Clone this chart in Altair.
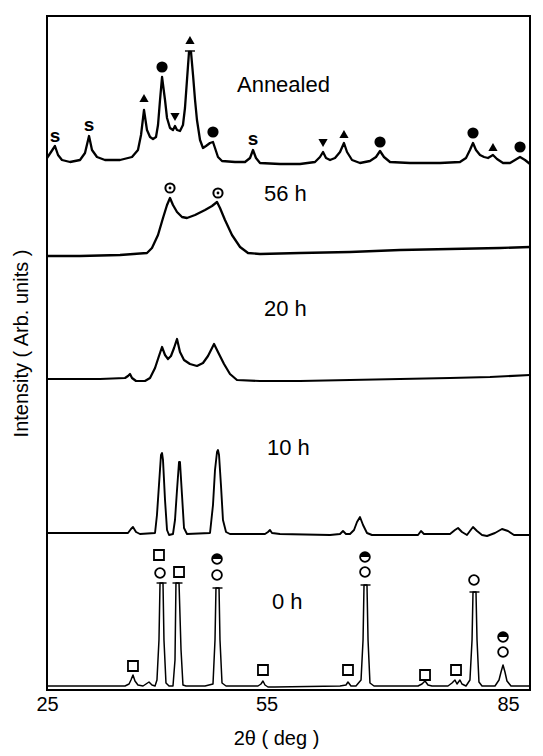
import altair as alt
import pandas as pd

# ---------------- diffraction patterns (2θ in deg, intensity in arb. units, offset) -------------
ann_x = [25.0, 25.50, 25.99, 26.37, 26.86, 27.86, 29.10, 29.72, 30.22, 30.59, 31.21, 32.20, 34.07,
         35.56, 36.30, 36.68, 37.05, 37.42, 37.80, 38.17, 38.54, 38.79, 39.04, 39.29, 39.66, 39.91,
         40.28, 40.65, 40.90, 41.15, 41.52, 41.89, 42.14, 42.39, 42.64, 42.89, 43.14, 43.39, 43.63,
         44.01, 44.38, 44.75, 45.25, 45.62, 45.87, 46.24, 46.74, 48.35, 49.60, 50.22, 50.59, 50.96,
         51.46, 53.94, 56.43, 58.29, 58.91, 59.29, 59.66, 60.16, 60.78, 61.40, 61.89, 62.27, 62.89,
         63.88, 65.12, 65.87, 66.37, 66.86, 67.61, 70.09, 73.82, 76.30, 77.05, 77.54, 77.92, 78.29,
         78.79, 79.29, 79.78, 80.40, 80.90, 81.65, 82.52, 83.14, 83.76, 84.38, 85.0]
ann_y = [532, 538, 544, 535, 530, 528, 530, 537, 554, 540, 533, 530, 530,
         533, 540, 555, 580, 560, 553, 551, 553, 565, 590, 613, 590, 572,
         562, 560, 564, 560, 559, 565, 582, 610, 638, 638, 615, 590, 570,
         550, 542, 544, 547, 548, 542, 533, 529, 528, 528, 532, 540, 532,
         527, 526, 526, 528, 533, 538, 532, 530, 532, 538, 547, 538, 530,
         527, 529, 533, 539, 533, 528, 527, 527, 528, 532, 540, 547, 540,
         535, 533, 532, 535, 531, 527, 527, 530, 533, 530, 526]

h56_x = [25.0, 29.10, 34.07, 37.42, 38.04, 38.79, 39.41, 39.91, 40.28, 40.65, 41.15, 41.77, 42.39,
         43.39, 44.63, 45.50, 46.12, 46.49, 47.11, 47.98, 48.98, 49.97, 51.46, 56.43, 62.64, 68.85,
         75.06, 81.27, 85.0]
h56_y = [434, 434, 435, 437, 442, 455, 472, 485, 492, 485, 478, 473, 472,
         475, 480, 484, 488, 482, 470, 455, 443, 437, 436, 437, 438, 440,
         441, 442, 443]

h20_x = [25.0, 31.58, 34.69, 35.06, 35.31, 35.56, 36.06, 37.17, 37.80, 38.42, 38.91, 39.29, 39.66,
         40.03, 40.40, 40.78, 41.15, 41.52, 42.02, 42.76, 43.63, 44.38, 45.00, 45.75, 46.24, 46.99,
         47.73, 48.60, 51.46, 56.43, 62.64, 68.85, 75.06, 80.03, 85.0]
h20_y = [311, 311, 312, 314, 316, 312, 309, 309, 312, 322, 334, 343, 335,
         331, 334, 342, 351, 338, 330, 326, 324, 327, 334, 346, 338, 326,
         316, 310, 309, 309, 310, 311, 312, 313, 315]

h10_x = [25.0, 31.58, 35.06, 35.43, 35.68, 36.06, 36.55, 38.42, 38.66, 38.91, 39.16, 39.29, 39.41,
         39.66, 39.91, 40.16, 40.65, 40.90, 41.15, 41.40, 41.52, 41.77, 42.02, 42.39, 45.25, 45.62,
         45.87, 46.12, 46.24, 46.37, 46.61, 46.86, 47.24, 47.73, 52.08, 52.45, 52.70, 52.95, 53.94,
         60.16, 61.40, 61.77, 62.14, 62.64, 63.14, 63.51, 63.88, 64.26, 64.75, 65.37, 71.09, 71.46,
         71.83, 75.06, 75.68, 76.06, 76.55, 77.17, 77.54, 77.92, 78.42, 79.04, 79.66, 80.65, 81.52,
         82.27, 83.01, 85.0]
h10_y = [157, 157, 157, 161, 163, 158, 156, 157, 175, 205, 235, 237, 230,
         190, 160, 155, 156, 170, 200, 228, 228, 195, 162, 156, 157, 185,
         220, 238, 240, 235, 205, 170, 158, 156, 156, 158, 160, 157, 156,
         155, 156, 159, 156, 156, 160, 168, 173, 165, 157, 155, 155, 159,
         156, 156, 160, 162, 158, 155, 159, 163, 159, 155, 154, 157, 161,
         159, 155, 155]

h0_x = [25.0, 34.69, 35.19, 35.43, 35.68, 35.93, 36.30, 36.93, 37.30, 37.67, 38.04, 38.42, 38.66,
        38.91, 39.04, 39.41, 39.53, 39.78, 40.16, 40.65, 40.90, 41.02, 41.40, 41.65, 41.89, 42.27,
        44.63, 45.62, 45.87, 45.99, 46.37, 46.49, 46.74, 47.24, 51.21, 51.58, 51.83, 52.08, 52.45,
        53.32, 61.40, 62.14, 62.39, 62.76, 63.38, 64.01, 64.26, 64.38, 64.75, 64.88, 65.12, 65.62,
        71.09, 71.58, 71.96, 72.33, 72.83, 74.81, 75.31, 75.68, 75.93, 76.30, 76.55, 77.05, 77.54,
        77.80, 77.92, 78.29, 78.42, 78.66, 79.04, 80.65, 81.15, 81.40, 81.65, 81.89, 82.14, 82.64,
        85.0]
h0_y = [4, 4, 6, 10, 15, 9, 5, 4, 6, 8, 5, 4, 10,
        50, 107, 107, 50, 7, 4, 4, 30, 107, 107, 40, 5, 4,
        4, 6, 50, 102, 102, 50, 7, 4, 4, 6, 9, 5, 3,
        3, 4, 5, 8, 4, 4, 10, 50, 105, 105, 50, 7, 4,
        4, 6, 9, 5, 4, 4, 7, 10, 6, 10, 6, 4, 10,
        50, 98, 98, 50, 8, 4, 4, 10, 18, 25, 18, 9, 4,
        4]

# truncation caps on clipped peaks
cap_x = [42.76, 39.23, 41.21, 46.18, 64.57, 78.10]
cap_y = [639, 107, 107, 102, 105, 98]

# ---------------- phase markers --------------------------------------------------------------
s_x, s_y = [25.99, 30.22, 50.59], [554, 565, 551]
tri_up_x, tri_up_y = [37.05, 42.76, 61.89, 80.40], [592, 650, 556, 543]
tri_dn_x, tri_dn_y = [40.90, 59.29], [573, 547]
dot_x, dot_y = [39.29, 45.62, 66.37, 77.92, 83.76], [623, 558, 548, 557, 543]
ring_x, ring_y = [40.28, 46.24], [502, 497]
sq_x, sq_y = [38.91, 41.40, 35.68, 51.83, 62.39, 71.96, 75.81], [135, 118, 24, 20, 20, 15, 20]
oc_x, oc_y = [39.04, 46.12, 64.50, 78.04, 81.65], [117, 115, 118, 110, 38]
half_x, half_y = [46.12, 64.50, 81.65], [131, 133, 53]

lab_text = ["Annealed", "56 h", "20 h", "10 h", "0 h"]
lab_x = [48.60, 51.96, 51.96, 52.33, 52.95]
lab_y = [605, 496, 381, 242, 88]

FONT = "Liberation Sans"
X = alt.X("x:Q", scale=alt.Scale(domain=[25, 85], nice=False, zero=False),
          axis=alt.Axis(values=[25, 55, 85], title="2θ ( deg )", grid=False, ticks=False,
                        domain=False, labelFlush=False, labelPadding=4,
                        labelOffset={"condition": {"test": "datum.value == 25", "value": 0}, "value": -22},
                        labelFontSize=20, labelFont=FONT, labelColor="black",
                        titleFont=FONT, titleFontSize=20, titleFontWeight="normal",
                        titleColor="black", titleX=229, titleY=48, titleBaseline="middle"))
Y = alt.Y("y:Q", scale=alt.Scale(domain=[0, 674], nice=False, zero=False),
          axis=alt.Axis(title="Intensity ( Arb. units )", labels=False, ticks=False, grid=False,
                        domain=False, titleFont=FONT, titleFontSize=20, titleFontWeight="normal",
                        titleColor="black", titleX=-26, titleY=327, titleAngle=270,
                        titleBaseline="middle", titleAlign="center"))
Xn = alt.X("x:Q")
Yn = alt.Y("y:Q")


def df(xs, ys):
    return pd.DataFrame({"x": xs, "y": ys})


layers = []
series = [(ann_x, ann_y, 2.3), (h56_x, h56_y, 2.3), (h20_x, h20_y, 2.2),
          (h10_x, h10_y, 1.9), (h0_x, h0_y, 1.5)]
for i, (xs, ys, sw) in enumerate(series):
    enc = dict(x=X, y=Y) if i == 0 else dict(x=Xn, y=Yn)
    layers.append(alt.Chart(df(xs, ys)).mark_line(color="black", strokeWidth=sw,
                                                  strokeJoin="round").encode(**enc))

layers.append(alt.Chart(df(cap_x, cap_y)).mark_tick(orient="horizontal", size=10, thickness=2,
                                                    color="black").encode(x=Xn, y=Yn))
layers.append(alt.Chart(df(s_x, s_y)).mark_text(text="s", font=FONT, fontSize=19, color="black",
                                                fontWeight="bold", baseline="middle").encode(x=Xn, y=Yn))
layers.append(alt.Chart(df(tri_up_x, tri_up_y)).mark_point(shape="triangle-up", filled=True,
                                                           size=85, color="black", opacity=1).encode(x=Xn, y=Yn))
layers.append(alt.Chart(df(tri_dn_x, tri_dn_y)).mark_point(shape="triangle-down", filled=True,
                                                           size=85, color="black", opacity=1).encode(x=Xn, y=Yn))
layers.append(alt.Chart(df(dot_x, dot_y)).mark_point(shape="circle", filled=True, size=125,
                                                     color="black", opacity=1).encode(x=Xn, y=Yn))
layers.append(alt.Chart(df(ring_x, ring_y)).mark_point(shape="circle", filled=False, size=85,
                                                       color="black", strokeWidth=2, opacity=1).encode(x=Xn, y=Yn))
layers.append(alt.Chart(df(ring_x, ring_y)).mark_point(shape="circle", filled=True, size=8,
                                                       color="black", opacity=1).encode(x=Xn, y=Yn))
layers.append(alt.Chart(df(sq_x, sq_y)).mark_point(shape="square", filled=False, size=100,
                                                   color="black", strokeWidth=1.8, opacity=1).encode(x=Xn, y=Yn))
layers.append(alt.Chart(df(oc_x, oc_y)).mark_point(shape="circle", filled=False, size=95,
                                                   color="black", strokeWidth=1.8, opacity=1).encode(x=Xn, y=Yn))
layers.append(alt.Chart(df(half_x, half_y)).mark_point(shape="M-1,0A1,1 0 0,1 1,0Z", filled=True,
                                                       size=95, color="black", opacity=1).encode(x=Xn, y=Yn))
layers.append(alt.Chart(df(half_x, half_y)).mark_point(shape="circle", filled=False, size=95,
                                                       color="black", strokeWidth=1.8, opacity=1).encode(x=Xn, y=Yn))
layers.append(alt.Chart(pd.DataFrame({"x": lab_x, "y": lab_y, "t": lab_text})).mark_text(
    font=FONT, fontSize=22, align="left", baseline="middle", color="black").encode(
    x=Xn, y=Yn, text="t:N"))

chart = alt.layer(*layers).properties(
    width=483, height=674,
    autosize=alt.AutoSizeParams(type="none"),
    padding={"left": 47, "top": 16, "right": 13, "bottom": 66},
    background="white",
).configure_view(stroke="black", strokeWidth=2)

chart.save("out.html", embed_options={"renderer": "svg", "actions": False})
